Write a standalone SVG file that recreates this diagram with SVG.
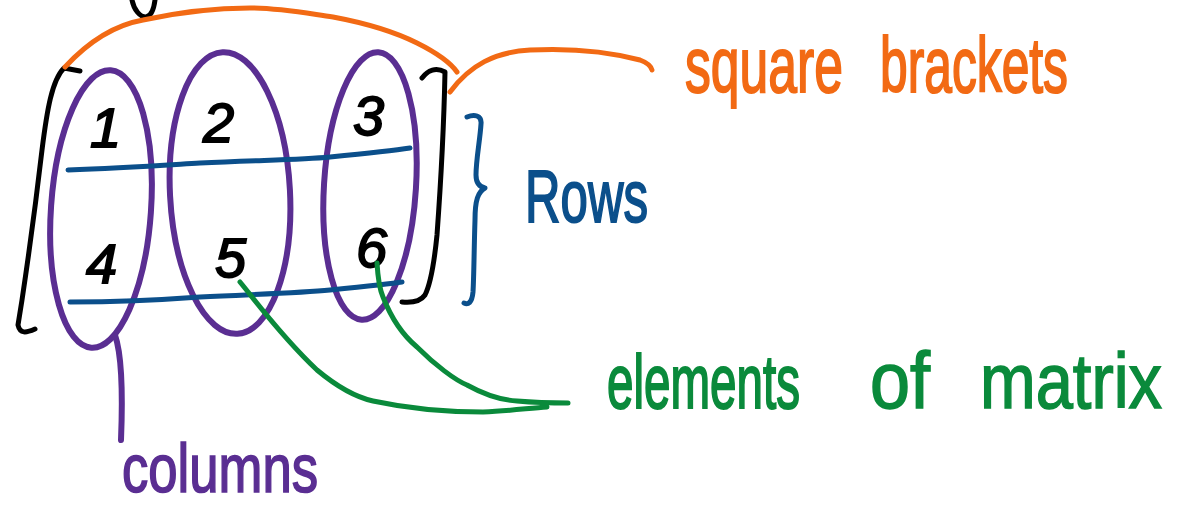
<svg xmlns="http://www.w3.org/2000/svg" width="1178" height="515" viewBox="0 0 1178 515">
<style>
.s{fill:none;stroke-linecap:round;stroke-linejoin:round;stroke-width:5}
.k{stroke:#000}.o{stroke:#f26a14}.p{stroke:#5a2e92;stroke-width:6}.b{stroke:#0b4f8b}.g{stroke:#0a8a3b}
.t{font-family:"Liberation Sans",Arial,sans-serif}
.num{font-size:56px;fill:#000;font-style:italic;stroke:#000;stroke-width:1.8}
.lbl text{stroke-width:1.3}
.lo{fill:#f26a14;stroke:#f26a14}.lb{fill:#0b4f8b;stroke:#0b4f8b}.lg{fill:#0a8a3b;stroke:#0a8a3b}.lp{fill:#5a2e92;stroke:#5a2e92}
</style>
<rect width="1178" height="515" fill="#fff"/>
<g id="matrix">
  <path class="s k" d="M132,0 C134,10 140,17 146,17 C152,16 154,8 155,0"/>
  <path id="left-bracket" class="s k" d="M80,71 L64,68 C52,80 47,110 42,150 C35,210 28,260 22,300 L18,325 C20,334 26,333 35,329"/>
  <path id="right-bracket" class="s k" d="M422,78 C428,70 436,67 445,72 C444,120 441,180 437,235 C434,265 430,285 425,295 C420,302 412,303 402,302"/>
  <g id="columns-ovals">
    <ellipse class="s p" cx="101" cy="209" rx="50" ry="139" transform="rotate(4 101 209)"/>
    <ellipse class="s p" cx="230" cy="193" rx="60" ry="141" transform="rotate(-3 230 193)"/>
    <ellipse class="s p" cx="370" cy="186" rx="46" ry="134" transform="rotate(3.6 370 186)"/>
  </g>
  <g id="rows-lines">
    <path class="s b" d="M68,170 C120,168 150,166 200,163 C260,160 300,160 330,157 C370,153 390,151 410,148"/>
    <path class="s b" d="M70,302 C120,302 160,300 200,297 C260,294 300,293 330,290 C370,286 390,284 402,282"/>
  </g>
  <g id="numbers" class="t num">
    <text x="90" y="147">1</text>
    <text x="203" y="142">2</text>
    <text x="353" y="135">3</text>
    <text x="86" y="283">4</text>
    <text x="215" y="277">5</text>
    <text x="356" y="267">6</text>
  </g>
</g>
<g id="connectors">
  <path class="s o" d="M65,67 C90,40 115,25 143,20 C180,12 215,8 250,8 C280,8 305,13 333,17 C365,23 395,32 417,43 C435,52 450,62 457,72"/>
  <path class="s o" d="M450,92 C470,65 495,52 530,50 C570,48 610,52 640,60 C648,63 651,66 652,70"/>
  <path class="s p" d="M115,335 C122,355 123,390 121,440"/>
  <path class="s b" d="M467,117 C474,114 482,115 481,124 C480,140 476,160 476,175 C476,184 480,187 485,188 C478,192 475,200 475,220 C474,250 474,275 473,292 C472,303 468,305 464,303"/>
  <path class="s g" d="M240,282 C255,300 280,335 317,370 C335,385 355,397 373,401 C410,409 450,412 483,412 C510,411 530,408 547,407"/>
  <path class="s g" d="M377,263 C378,280 380,290 383,297 C392,320 405,337 417,347 C435,365 455,380 467,385 C485,395 500,400 517,401 C540,403 555,403 568,403"/>
</g>
<g id="labels" class="t lbl">
  <text id="label-square" class="lo" transform="translate(685,92) scale(1,1.5)" font-size="52" textLength="158" lengthAdjust="spacingAndGlyphs">square</text>
  <text id="label-brackets" class="lo" transform="translate(880,92) scale(1,1.55)" font-size="50" textLength="188" lengthAdjust="spacingAndGlyphs">brackets</text>
  <text id="label-rows" class="lb" transform="translate(525,222) scale(1,1.5)" font-size="49" textLength="123" lengthAdjust="spacingAndGlyphs">Rows</text>
  <text id="label-elements" class="lg" transform="translate(607,408) scale(1,1.6)" font-size="47.6" textLength="193" lengthAdjust="spacingAndGlyphs">elements</text>
  <text id="label-of" class="lg" transform="translate(870,408) scale(1,1.2)" font-size="66" textLength="60" lengthAdjust="spacingAndGlyphs">of</text>
  <text id="label-matrix" class="lg" transform="translate(980,408) scale(1,1.15)" font-size="67" textLength="182" lengthAdjust="spacingAndGlyphs">matrix</text>
  <text id="label-columns" class="lp" transform="translate(122,492) scale(1,1.3)" font-size="52.6" textLength="196" lengthAdjust="spacingAndGlyphs">columns</text>
</g>
</svg>
